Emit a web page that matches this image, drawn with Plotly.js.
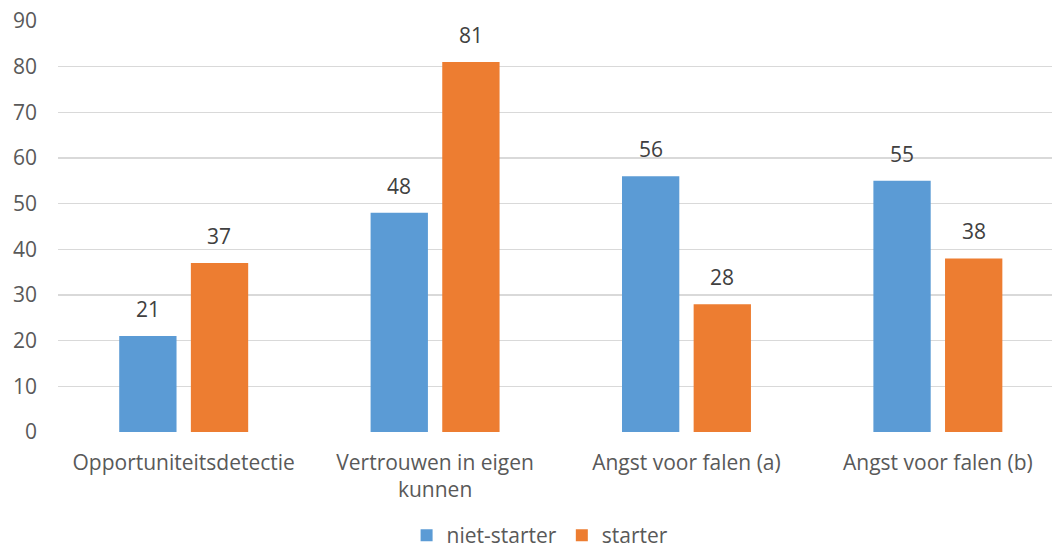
<!DOCTYPE html>
<html>
<head>
<meta charset="utf-8">
<script src="https://cdn.plot.ly/plotly-3.0.1.min.js"></script>
<style>html,body{margin:0;padding:0;background:#fff;}#chart{width:1052px;height:556px;}</style>
</head>
<body>
<div id="chart"></div>
<script>
const categories = ["Opportuniteitsdetectie", "Vertrouwen in eigen<br>kunnen", "Angst voor falen (a)", "Angst voor falen (b)"];
const nietStarter = [21, 48, 56, 55];
const starter = [37, 81, 28, 38];
const seriesNames = ["niet-starter", "starter"];
const yTicks = [0, 10, 20, 30, 40, 50, 60, 70, 80, 90];

const FONT = "Open Sans, Noto Sans, sans-serif";
const colors = ["#5B9BD5", "#ED7D31"];
const series = [nietStarter, starter];

const traces = series.map((vals, i) => ({
  type: "bar",
  x: categories,
  y: vals,
  name: seriesNames[i],
  marker: {color: colors[i]},
  hoverinfo: "skip"
}));

const annotations = [];
series.forEach((vals, i) => {
  vals.forEach((v, j) => {
    annotations.push({
      xref: "x", yref: "y",
      x: categories[j], y: v,
      xshift: i === 0 ? -35.75 : 35.75,
      yshift: 11,
      yanchor: "bottom",
      text: String(v),
      showarrow: false,
      font: {family: FONT, size: 21, color: "#404040"}
    });
  });
});

const layout = {
  width: 1052, height: 556,
  margin: {l: 58, r: 0, t: 21, b: 124},
  paper_bgcolor: "#fff", plot_bgcolor: "#fff",
  barmode: "group",
  bargap: 0.43,
  bargroupgap: 0.2,
  font: {family: FONT, size: 21, color: "#595959"},
  annotations: annotations,
  xaxis: {
    type: "category",
    range: [-0.5, 3.454],
    automargin: false,
    showgrid: false,
    zeroline: false,
    showline: false,
    ticks: "",
    ticklabelstandoff: 16,
    tickfont: {family: FONT, size: 21, color: "#595959"}
  },
  yaxis: {
    range: [0, 90],
    tickvals: yTicks,
    automargin: false,
    showgrid: true,
    gridcolor: "#D9D9D9",
    gridwidth: 1.5,
    zeroline: false,
    showline: false,
    ticks: "",
    ticklabelstandoff: 20,
    tickfont: {family: FONT, size: 21, color: "#595959"}
  },
  legend: {
    orientation: "h",
    x: 0.485, xanchor: "center",
    yref: "container",
    y: 0.0, yanchor: "bottom",
    tracegroupgap: 0,
    font: {family: FONT, size: 21, color: "#595959"},
    traceorder: "normal"
  },
  showlegend: true
};

Plotly.newPlot("chart", traces, layout, {displayModeBar: false, staticPlot: true});
</script>
</body>
</html>
